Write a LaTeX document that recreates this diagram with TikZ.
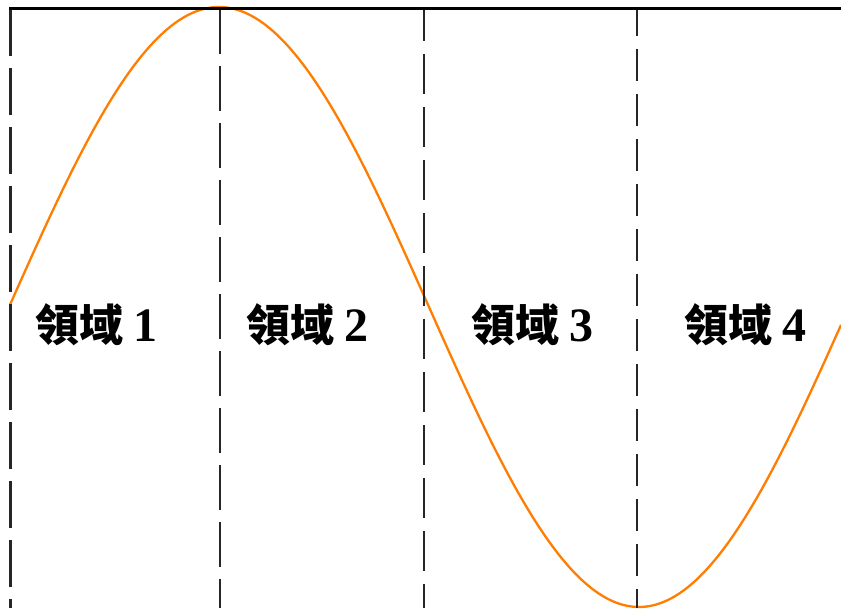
\documentclass[tikz,border=0pt]{standalone}
\usepackage{fontspec}
\newfontfamily\cjk{Noto Sans CJK TC Black}
\newfontfamily\numfont{Liberation Serif}
\definecolor{waveorange}{RGB}{255,125,0}
\tikzset{
  divider/.style={draw=black!85, line width=2.7pt},
  topline/.style={draw=black, line width=3pt},
  wave/.style={draw=waveorange, line width=2.3pt},
  region/.style={inner sep=0pt, font=\fontsize{44}{44}\selectfont}
}
\begin{document}
\begin{tikzpicture}[x=1pt,y=1pt]
\useasboundingbox (0,0) rectangle (841,608);
\begin{scope}
\clip (0,0) rectangle (841,608);
% wave
\draw[wave] plot[domain=10:841, samples=320, smooth] (\x, {301+300*sin(0.4285714*(\x-9))});
% dividers
\coordinate (d1t) at (10.5,599); \coordinate (d1b) at (10.5,0);
\coordinate (d2t) at (220,599);  \coordinate (d2b) at (220,0);
\coordinate (d3t) at (424,599);  \coordinate (d3b) at (424,0);
\coordinate (d4t) at (637,599);  \coordinate (d4b) at (637,0);
\coordinate (tl) at (9,599);
\coordinate (tr) at (841,599);
\draw[divider, dash pattern=on 47pt off 12pt] (d1t) -- (d1b);
\draw[divider, dash pattern=on 45pt off 12pt] (d2t) -- (d2b);
\draw[divider, dash pattern=on 40pt off 13pt, dash phase=8pt] (d3t) -- (d3b);
\draw[divider, dash pattern=on 32pt off 13pt, dash phase=5pt] (d4t) -- (d4b);
\draw[topline] (tl) -- (tr);
\end{scope}
% labels
\node[region] (r1) at (96.5,283) {\cjk 領域\hspace{10pt}\numfont\bfseries\fontsize{48}{48}\selectfont 1};
\node[region] (r2) at (307,283) {\cjk 領域\hspace{10pt}\numfont\bfseries\fontsize{48}{48}\selectfont 2};
\node[region] (r3) at (532.5,283) {\cjk 領域\hspace{10pt}\numfont\bfseries\fontsize{48}{48}\selectfont 3};
\node[region] (r4) at (745.5,283) {\cjk 領域\hspace{10pt}\numfont\bfseries\fontsize{48}{48}\selectfont 4};
\end{tikzpicture}
\end{document}
